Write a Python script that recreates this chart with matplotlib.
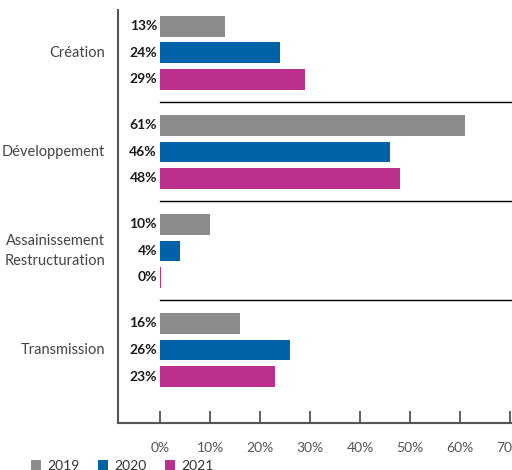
import matplotlib.pyplot as plt
import numpy as np

plt.rcParams['font.family'] = ['Lato', 'DejaVu Sans']

categories = ['Création', 'Développement', 'Assainissement\nRestructuration', 'Transmission']
years = ['2019', '2020', '2021']
values_2019 = [13, 61, 10, 16]
values_2020 = [24, 46, 4, 26]
values_2021 = [29, 48, 0, 23]
colors = ['#8a8c8e', '#0063a8', '#bb2f8f']
xticks = [0, 10, 20, 30, 40, 50, 60, 70]

fig = plt.figure(figsize=(5.12, 4.70), dpi=100)
ax = fig.add_axes([118 / 512, 0.1, 394 / 512, 0.879])

groups = np.arange(len(categories))
step = 0.268
height = 0.21
for j, (vals, col) in enumerate(zip([values_2019, values_2020, values_2021], colors)):
    ypos = groups + (j - 1) * step
    bars = ax.barh(ypos, vals, height=height, color=col, label=years[j])
    # keep a visible sliver for zero values
    for b, v in zip(bars, vals):
        if v == 0:
            b.set_width(0.25)
    for y, v in zip(ypos, vals):
        ax.text(-0.6, y, f'{v}%', ha='right', va='center', fontsize=10,
                fontweight='bold', color='#1a1a1a')

# separators between groups
for g in groups[:-1]:
    ax.axhline(g + 0.5, xmin=(160 - 118) / 394, xmax=1, color='black', lw=1)

ax.set_xlim(-8.4, 70.4)
ax.set_ylim(3.737, -0.434)

ax.set_yticks([])
for g, cat in zip(groups, categories):
    ax.text(-11, g, cat, ha='right', va='center', fontsize=10.5, color='#444444',
            linespacing=1.5)

ax.set_xticks(xticks)
ax.set_xticklabels([f'{t}%' for t in xticks], fontsize=10, color='#555555')
ax.tick_params(axis='x', direction='in', length=9, width=1.2, color='#444444', pad=14)

for s in ['top', 'right']:
    ax.spines[s].set_visible(False)
for s in ['left', 'bottom']:
    ax.spines[s].set_color('#555555')
    ax.spines[s].set_linewidth(1.5)

fig.legend(loc='lower left', bbox_to_anchor=(0.036, -0.03), ncol=3, frameon=False,
           fontsize=10, handlelength=0.7, handleheight=0.7, handletextpad=0.5,
           columnspacing=1.3, labelcolor='#333333')

fig.savefig('out.png', dpi=100)
